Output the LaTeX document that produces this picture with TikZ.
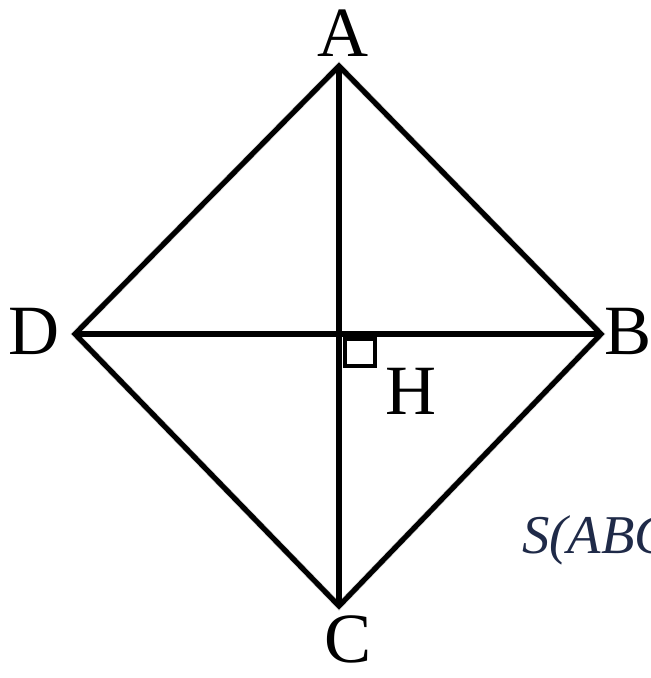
\documentclass[tikz,border=0pt]{standalone}
\usepackage{fontspec}
\setmainfont{Liberation Serif}
\definecolor{navytext}{HTML}{1F2A48}
\begin{document}
\begin{tikzpicture}[x=0.75pt,y=-0.75pt,
  edge/.style={line width=3.9pt, line join=miter, black},
  shade/.style={line width=5pt, black!14},
  lbl/.style={inner sep=0pt, font=\fontsize{53}{58}\selectfont},
  rightmark/.style={line width=2.4pt, black}]
\useasboundingbox[fill=white] (0,0) rectangle (650,678);
\coordinate (A) at (339,66);
\coordinate (B) at (601,334);
\coordinate (C) at (339,606);
\coordinate (D) at (75,334);
\coordinate (H) at (339,334);
% soft shadows
\begin{scope}[shift={(4,5)}]
\draw[shade] (A) -- (B) -- (C) -- (D) -- cycle;
\draw[shade] (A) -- (C);
\draw[shade] (D) -- (B);
\end{scope}
% figure
\draw[edge] (A) -- (B) -- (C) -- (D) -- cycle;
\draw[edge] (A) -- (C);
\draw[edge] (D) -- (B);
\coordinate (R1) at (345,339);
\coordinate (R2) at (375,366);
\draw[rightmark] (R1) rectangle (R2);
% labels
\node[lbl] (lA) at (343,33) {A};
\node[lbl] (lB) at (628,331) {B};
\node[lbl] (lC) at (348,639) {C};
\node[lbl] (lD) at (34,331) {D};
\node[lbl] (lH) at (411,391) {H};
\begin{scope}
\clip (0,0) rectangle (650,678);
\node[inner sep=0pt, anchor=base west, text=navytext,
  font=\fontsize{41}{44}\selectfont\itshape] (S) at (522,553) {S(ABC};
\end{scope}
\end{tikzpicture}
\end{document}
